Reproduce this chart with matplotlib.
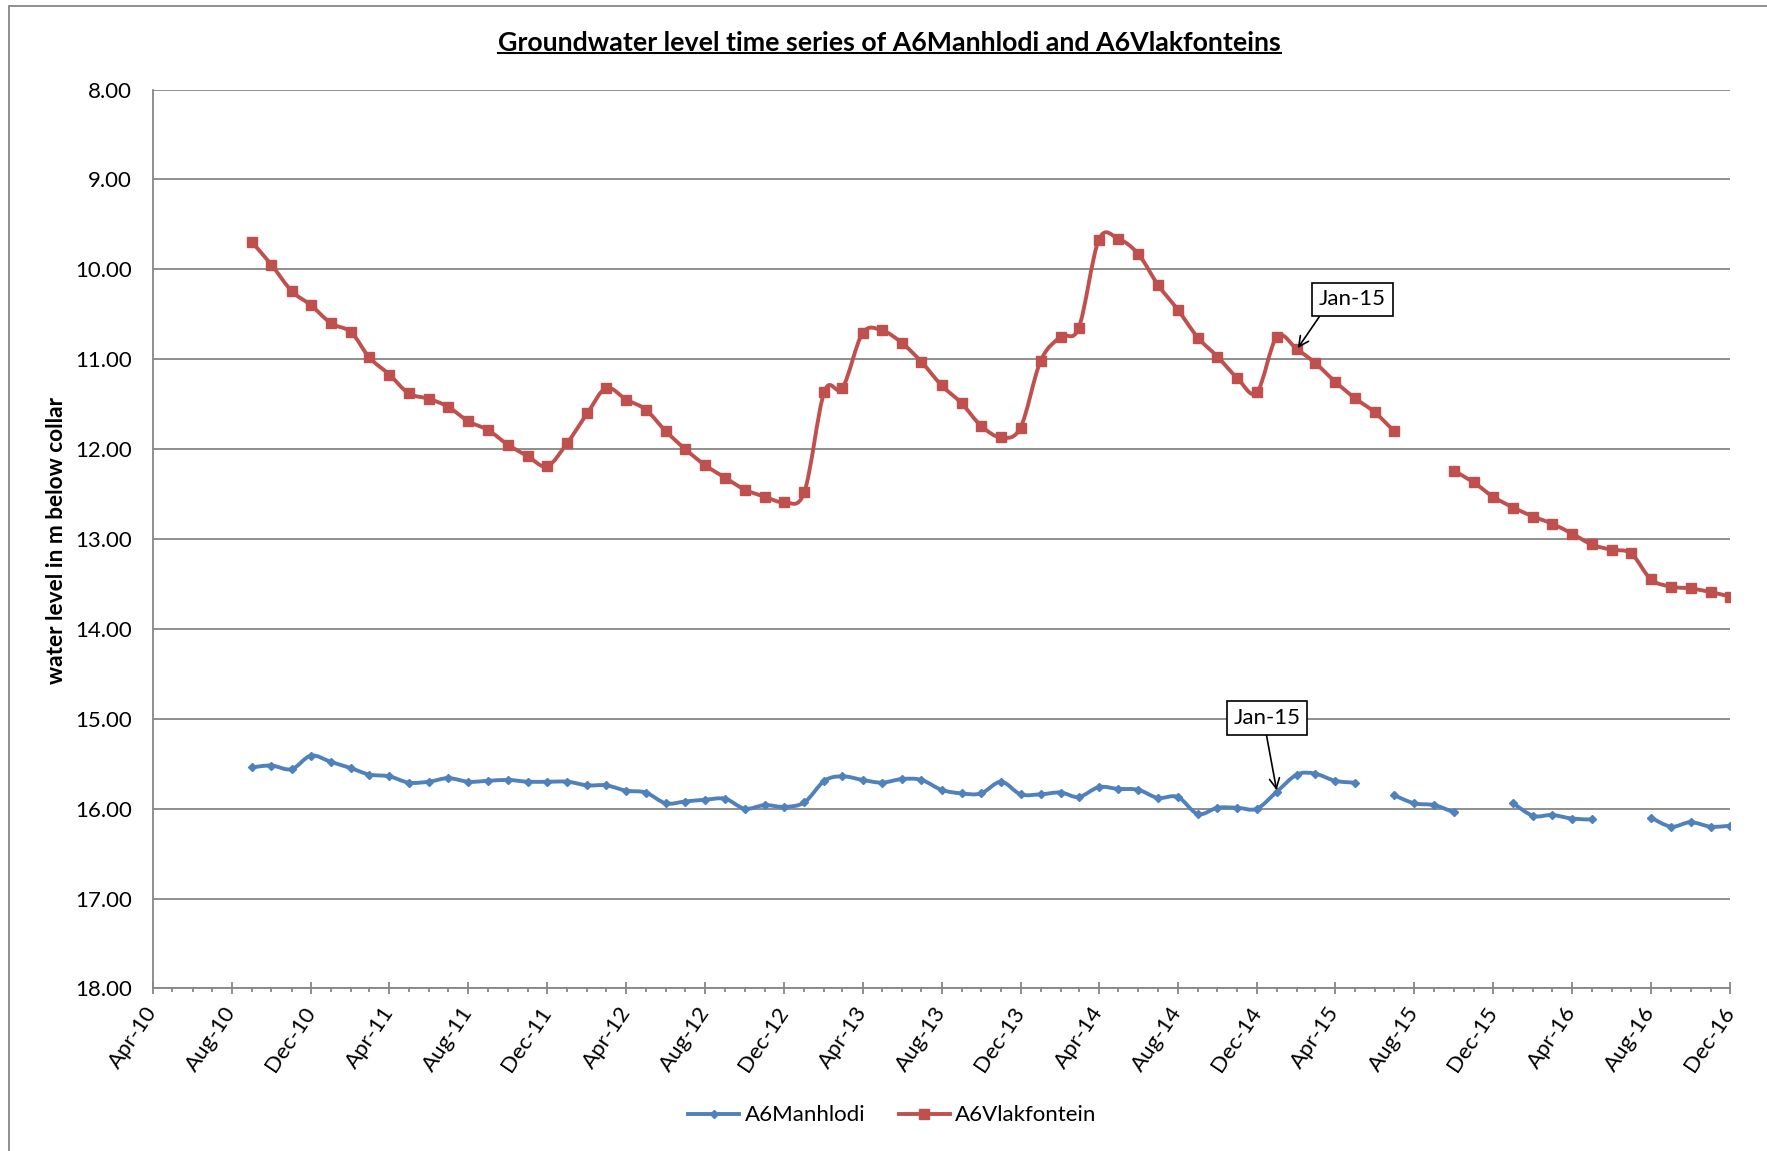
import numpy as np
import pandas as pd
import matplotlib
matplotlib.use('Agg')
import matplotlib.pyplot as plt
import matplotlib.dates as mdates
from matplotlib.path import Path
from matplotlib.patches import PathPatch, Rectangle
from matplotlib.lines import Line2D

plt.rcParams['font.family'] = ['Lato', 'DejaVu Sans']

# monthly readings Sep-10 .. Dec-16, NaN where no reading was taken
months = pd.date_range('2010-09-01', '2016-12-01', freq='MS')

manhlodi = [15.54, 15.52, 15.56, 15.41, 15.48, 15.55, 15.62, 15.64, 15.71, 15.70,
            15.66, 15.70, 15.69, 15.68, 15.70, 15.70, 15.70, 15.74, 15.74, 15.80,
            15.82, 15.94, 15.92, 15.90, 15.89, 16.00, 15.96, 15.98, 15.93, 15.69,
            15.64, 15.68, 15.71, 15.67, 15.68, 15.79, 15.83, 15.83, 15.70, 15.84,
            15.84, 15.82, 15.87, 15.76, 15.78, 15.79, 15.88, 15.87, 16.06, 15.99,
            15.99, 16.00, 15.81, 15.62, 15.61, 15.69, 15.71, np.nan,
            15.85, 15.94, 15.96, 16.04, np.nan, np.nan,
            15.94, 16.08, 16.07, 16.11, 16.12, np.nan, np.nan,
            16.10, 16.20, 16.15, 16.20, 16.19]

vlakfontein = [9.70, 9.95, 10.24, 10.40, 10.60, 10.70, 10.98, 11.17, 11.38, 11.44,
               11.53, 11.69, 11.79, 11.95, 12.08, 12.19, 11.93, 11.60, 11.32, 11.45,
               11.56, 11.80, 12.00, 12.18, 12.32, 12.45, 12.53, 12.59, 12.48, 11.36,
               11.32, 10.71, 10.68, 10.82, 11.03, 11.29, 11.49, 11.74, 11.87, 11.76,
               11.02, 10.75, 10.65, 9.67, 9.66, 9.83, 10.17, 10.45, 10.76, 10.97,
               11.21, 11.37, 10.75, 10.89, 11.04, 11.25, 11.43, 11.59, 11.80,
               np.nan, np.nan,
               12.24, 12.37, 12.53, 12.65, 12.75, 12.83, 12.94, 13.06, 13.12, 13.16,
               13.45, 13.53, 13.55, 13.59, 13.64]

series_names = ['A6Manhlodi', 'A6Vlakfontein']
series_colors = ['#4F81BD', '#C0504D']
series_markers = ['D', 's']
marker_sizes = [4.5, 6.5]
note_text = 'Jan-15'

GRID = '#868686'


def smooth_path(x, y):
    # Excel style smoothed line (Catmull-Rom as cubic Bezier), broken at gaps
    verts, codes = [], []
    ok = ~np.isnan(y)
    idx = np.where(ok)[0]
    runs = np.split(idx, np.where(np.diff(idx) > 1)[0] + 1)
    for run in runs:
        pts = np.column_stack([x[run], y[run]])
        n = len(pts)
        if n < 2:
            continue
        verts.append(pts[0]); codes.append(Path.MOVETO)
        for i in range(n - 1):
            p0 = pts[max(i - 1, 0)]
            p1 = pts[i]
            p2 = pts[i + 1]
            p3 = pts[min(i + 2, n - 1)]
            verts += [p1 + (p2 - p0) / 6, p2 - (p3 - p1) / 6, p2]
            codes += [Path.CURVE4] * 3
    return Path(verts, codes)


fig = plt.figure(figsize=(17.67, 11.51), dpi=100)
ax = fig.add_axes([0.0866, 0.1412, 0.8925, 0.781])

x = mdates.date2num(months.to_pydatetime())
for vals, c, m, ms in zip([manhlodi, vlakfontein], series_colors, series_markers, marker_sizes):
    y = np.array(vals, dtype=float)
    ax.add_patch(PathPatch(smooth_path(x, y), fill=False, edgecolor=c, lw=2.8,
                           capstyle='round', joinstyle='round', zorder=3))
    ax.plot(x, y, ls='none', marker=m, ms=ms, color=c, zorder=4)

# ==========================================
# Axes
# ==========================================
ax.set_xlim(mdates.date2num(pd.Timestamp('2010-04-01')), mdates.date2num(pd.Timestamp('2016-12-01')))
ax.set_ylim(18, 8)
ax.set_yticks(np.arange(8, 19, 1))
ax.yaxis.set_major_formatter(matplotlib.ticker.FormatStrFormatter('%.2f'))
ax.xaxis.set_major_locator(mdates.MonthLocator(bymonth=[4, 8, 12]))
ax.xaxis.set_minor_locator(mdates.MonthLocator())
ax.xaxis.set_major_formatter(mdates.DateFormatter('%b-%y'))

ax.yaxis.grid(True, color=GRID, lw=1.3)
ax.set_axisbelow(True)
for s in ['top', 'right']:
    ax.spines[s].set_visible(False)
for s in ['left', 'bottom']:
    ax.spines[s].set_color(GRID)
    ax.spines[s].set_linewidth(1.3)

ax.tick_params(axis='y', length=0, pad=15, labelsize=16)
ax.tick_params(axis='x', which='major', direction='inout', length=9, width=1.3,
               color=GRID, pad=10, labelsize=16)
ax.tick_params(axis='x', which='minor', direction='out', length=3, width=1.3, color=GRID)
for lab in ax.get_xticklabels():
    lab.set_rotation(56)
    lab.set_ha('right')
    lab.set_va('center')
    lab.set_rotation_mode('anchor')

# ==========================================
# Call-outs
# ==========================================
box = dict(boxstyle='square,pad=0.3', fc='white', ec='black', lw=1.2)
ax.annotate(note_text, xy=(x[53], vlakfontein[53]), xytext=(40, 36),
            textcoords='offset points', ha='center', va='center', fontsize=16,
            bbox=box, zorder=6,
            arrowprops=dict(arrowstyle='->', color='black', lw=1.2,
                            relpos=(0.08, 0), shrinkA=0, shrinkB=1, mutation_scale=18))
ax.annotate(note_text, xy=(x[52], manhlodi[52]), xytext=(-7, 53),
            textcoords='offset points', ha='center', va='center', fontsize=16,
            bbox=box, zorder=6,
            arrowprops=dict(arrowstyle='->', color='black', lw=1.2,
                            relpos=(0.47, 0), shrinkA=0, shrinkB=1, mutation_scale=18))

# ==========================================
# Titles, legend, frame
# ==========================================
title = fig.text(0.5035, 0.9626, 'Groundwater level time series of A6Manhlodi and A6Vlakfonteins',
                 ha='center', va='center', fontsize=19.3, fontweight='bold')
fig.text(0.0317, 0.5308, 'water level in m below collar', rotation=90,
         ha='center', va='center', fontsize=16.3, fontweight='bold')

fig.canvas.draw()
bb = title.get_window_extent().transformed(fig.transFigure.inverted())
fig.add_artist(Line2D([bb.x0, bb.x1], [bb.y0 + 0.002, bb.y0 + 0.002], color='black',
                      lw=1.5, transform=fig.transFigure))

handles = [Line2D([], [], color=c, lw=2.8, marker=m, ms=ms)
           for c, m, ms in zip(series_colors, series_markers, marker_sizes)]
fig.legend(handles, series_names, loc='center', bbox_to_anchor=(0.505, 0.031), ncol=2,
           frameon=False, fontsize=16, handlelength=2.3, handletextpad=0.25,
           columnspacing=1.5, numpoints=1)

fig.add_artist(Rectangle((9 / 1767, -0.1), 1.2, 1.1 - 6 / 1151, transform=fig.transFigure,
                         fill=False, ec=GRID, lw=1.3))

fig.savefig('out.png', dpi=100)
